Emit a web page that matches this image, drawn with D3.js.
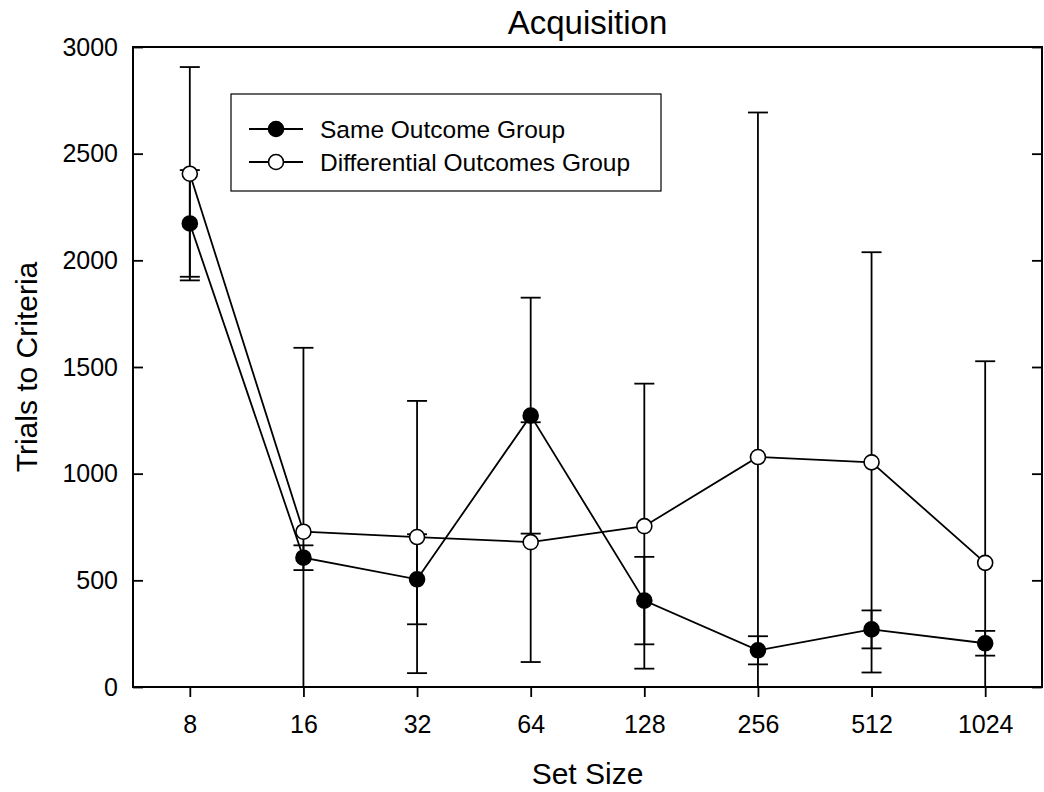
<!DOCTYPE html>
<html>
<head>
<meta charset="utf-8">
<script src="https://cdn.jsdelivr.net/npm/d3@7/dist/d3.min.js"></script>
<style>
  html, body { margin: 0; padding: 0; background: #fff; }
  svg { display: block; }
  text { font-family: "Liberation Sans", Arial, sans-serif; fill: #000; }
</style>
</head>
<body>
<svg id="chart" width="1044" height="792"></svg>
<script>
// Set sizes on the x axis
const setSizes = ["8", "16", "32", "64", "128", "256", "512", "1024"];

// Mean trials to criteria and standard errors, per group
const sameMean = [2173, 606, 505, 1272, 405, 172, 270, 205];
const sameErr  = [250, 58, 211, 553, 205, 66, 89, 58];
const diffMean = [2406, 728, 703, 679, 754, 1078, 1053, 582];
const diffErr  = [500, 862, 638, 562, 668, 1615, 985, 945];

const yTicks = [0, 500, 1000, 1500, 2000, 2500, 3000];

const seriesNames = ["Same Outcome Group", "Differential Outcomes Group"];

const svg = d3.select("#chart");
const plotL = 133, plotR = 1042, plotT = 47, plotB = 687;
const tickFont = "25px";

const x = d3.scalePoint().domain(setSizes).range([plotL, plotR]).padding(0.5);
const y = d3.scaleLinear().domain([0, 3000]).range([plotB, plotT]);

const series = [
  { name: seriesNames[0], mean: sameMean, err: sameErr, fill: "#000" },
  { name: seriesNames[1], mean: diffMean, err: diffErr, fill: "#fff" }
];

// clip for error bars that run below zero
svg.append("defs").append("clipPath").attr("id", "plotClip")
  .append("rect").attr("x", plotL).attr("y", plotT).attr("width", plotR - plotL).attr("height", plotB - plotT);

// axes: y ticks point inward on both sides, x ticks point outward
const yAxisL = d3.axisLeft(y).tickValues(yTicks).tickSize(-10).tickPadding(15).tickFormat(d3.format("d"));
const gy = svg.append("g").attr("transform", `translate(${plotL},0)`).call(yAxisL);
gy.select(".domain").remove();
gy.selectAll("line").attr("stroke", "#000").attr("stroke-width", 1.8);
gy.selectAll("text").style("font-size", tickFont).attr("font-family", "Liberation Sans, Arial, sans-serif");

const yAxisR = d3.axisRight(y).tickValues(yTicks).tickSize(-10).tickFormat("");
const gyr = svg.append("g").attr("transform", `translate(${plotR},0)`).call(yAxisR);
gyr.select(".domain").remove();
gyr.selectAll("line").attr("stroke", "#000").attr("stroke-width", 1.8);

const xAxis = d3.axisBottom(x).tickSize(10).tickPadding(18);
const gx = svg.append("g").attr("transform", `translate(0,${plotB})`).call(xAxis);
gx.select(".domain").remove();
gx.selectAll("line").attr("stroke", "#000").attr("stroke-width", 1.8);
gx.selectAll("text").style("font-size", tickFont).attr("font-family", "Liberation Sans, Arial, sans-serif");

// frame
svg.append("rect").attr("x", plotL).attr("y", plotT).attr("width", plotR - plotL).attr("height", plotB - plotT)
  .attr("fill", "none").attr("stroke", "#000").attr("stroke-width", 2);

const plot = svg.append("g").attr("clip-path", "url(#plotClip)");
const line = d3.line().x((d, i) => x(setSizes[i])).y(d => y(d));

series.forEach(s => {
  // connecting line
  plot.append("path").datum(s.mean).attr("d", line)
    .attr("fill", "none").attr("stroke", "#000").attr("stroke-width", 1.8);
});

series.forEach(s => {
  const g = plot.append("g");
  const cap = 10;
  s.mean.forEach((m, i) => {
    const cx = x(setSizes[i]);
    const hi = m + s.err[i], lo = m - s.err[i];
    g.append("line").attr("x1", cx).attr("x2", cx).attr("y1", y(hi)).attr("y2", y(Math.max(lo, -100)))
      .attr("stroke", "#000").attr("stroke-width", 1.8);
    g.append("line").attr("x1", cx - cap).attr("x2", cx + cap).attr("y1", y(hi)).attr("y2", y(hi))
      .attr("stroke", "#000").attr("stroke-width", 1.8);
    if (lo > 0) {
      g.append("line").attr("x1", cx - cap).attr("x2", cx + cap).attr("y1", y(lo)).attr("y2", y(lo))
        .attr("stroke", "#000").attr("stroke-width", 1.8);
    }
  });
});

series.forEach(s => {
  svg.append("g").selectAll("circle").data(s.mean).join("circle")
    .attr("cx", (d, i) => x(setSizes[i])).attr("cy", d => y(d)).attr("r", 7.5)
    .attr("fill", s.fill).attr("stroke", "#000").attr("stroke-width", 1.6);
});

// legend
const lg = svg.append("g");
lg.append("rect").attr("x", 231).attr("y", 94).attr("width", 430).attr("height", 97)
  .attr("fill", "#fff").attr("stroke", "#000").attr("stroke-width", 1.2);
series.forEach((s, i) => {
  const ry = 129 + i * 33;
  lg.append("line").attr("x1", 249).attr("x2", 303).attr("y1", ry).attr("y2", ry)
    .attr("stroke", "#000").attr("stroke-width", 1.8);
  lg.append("circle").attr("cx", 276).attr("cy", ry).attr("r", 7.5)
    .attr("fill", s.fill).attr("stroke", "#000").attr("stroke-width", 1.6);
  lg.append("text").attr("x", 320).attr("y", ry).attr("dy", "0.36em")
    .style("font-size", "24.5px").text(s.name);
});

// titles
svg.append("text").attr("x", (plotL + plotR) / 2).attr("y", 34).attr("text-anchor", "middle")
  .style("font-size", "33px").text("Acquisition");
svg.append("text").attr("x", (plotL + plotR) / 2).attr("y", 784).attr("text-anchor", "middle")
  .style("font-size", "30px").text("Set Size");
svg.append("text").attr("transform", `translate(37,${(plotT + plotB) / 2}) rotate(-90)`)
  .attr("text-anchor", "middle").style("font-size", "30px").text("Trials to Criteria");
</script>
</body>
</html>
